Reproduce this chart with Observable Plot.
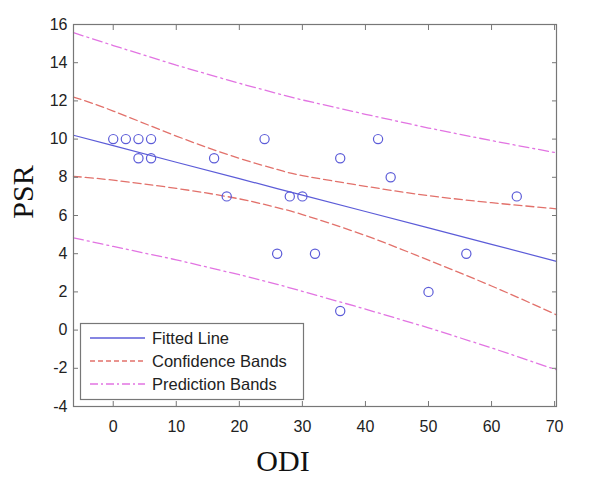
<!DOCTYPE html>
<html>
<head>
<meta charset="utf-8">
<script src="https://cdn.jsdelivr.net/npm/d3@7"></script>
<script src="https://cdn.jsdelivr.net/npm/@observablehq/plot@0.6"></script>
<style>
  html, body { margin: 0; padding: 0; background: #fff; }
  #wrap { position: relative; width: 600px; height: 484px; }
  #overlay { position: absolute; left: 0; top: 0; pointer-events: none; }
</style>
</head>
<body>
<div id="wrap"></div>
<script>
// Observations (ODI, PSR)
const odi = [0, 2, 4, 6, 4, 6, 16, 18, 24, 26, 28, 30, 32, 36, 36, 42, 44, 50, 56, 64];
const psr = [10, 10, 10, 10, 9, 9, 9, 7, 10, 4, 7, 7, 4, 9, 1, 10, 8, 2, 4, 7];

// Curves
const curveX = [-6.3, 0, 10, 20, 26, 30, 40, 50, 60, 70.3];
const fitted = [10.2, 9.66, 8.79, 7.93, 7.41, 7.07, 6.21, 5.35, 4.49, 3.6];
const confUpper = [12.2, 11.47, 10.16, 8.99, 8.41, 8.09, 7.53, 7.04, 6.67, 6.35];
const confLower = [8.05, 7.85, 7.42, 6.87, 6.41, 6.05, 4.95, 3.66, 2.31, 0.8];
const predUpper = [15.57, 14.9, 13.87, 12.92, 12.39, 12.05, 11.3, 10.58, 9.92, 9.28];
const predLower = [4.83, 4.38, 3.68, 2.9, 2.4, 2.03, 1.1, 0.12, -0.93, -2.08];

const xTicks = [0, 10, 20, 30, 40, 50, 60, 70];
const yTicks = [-4, -2, 0, 2, 4, 6, 8, 10, 12, 14, 16];

const legendItems = ["Fitted Line", "Confidence Bands", "Prediction Bands"];

const C_FIT = "#5c5cd8";
const C_CONF = "#e2716b";
const C_PRED = "#e274e2";
const DASH_CONF = "8,4";
const DASH_PRED = "10,4,2,4";

const points = odi.map((x, i) => ({x, y: psr[i]}));
const mk = arr => curveX.map((x, i) => ({x, y: arr[i]}));

const axisFont = "Liberation Sans, Arial, Helvetica, sans-serif";
const fmt = d => String(d);

const chart = Plot.plot({
  width: 600,
  height: 484,
  marginLeft: 73,
  marginRight: 44,
  marginTop: 24,
  marginBottom: 78,
  style: {fontFamily: axisFont, fontSize: "16px", color: "#222", background: "#fff"},
  x: {domain: [-6.3, 70.3], label: null},
  y: {domain: [-4, 16], label: null},
  marks: [
    Plot.line(mk(predUpper), {x: "x", y: "y", stroke: C_PRED, strokeWidth: 1.3, strokeDasharray: DASH_PRED}),
    Plot.line(mk(predLower), {x: "x", y: "y", stroke: C_PRED, strokeWidth: 1.3, strokeDasharray: DASH_PRED}),
    Plot.line(mk(confUpper), {x: "x", y: "y", stroke: C_CONF, strokeWidth: 1.3, strokeDasharray: DASH_CONF, curve: "natural"}),
    Plot.line(mk(confLower), {x: "x", y: "y", stroke: C_CONF, strokeWidth: 1.3, strokeDasharray: DASH_CONF, curve: "natural"}),
    Plot.line(mk(fitted), {x: "x", y: "y", stroke: C_FIT, strokeWidth: 1.2}),
    Plot.dot(points, {x: "x", y: "y", r: 4.6, stroke: C_FIT, strokeWidth: 1.2, fill: "none"}),
    Plot.frame({stroke: "#777", strokeWidth: 1.2}),
    Plot.axisX(xTicks, {anchor: "bottom", tickSize: -5, tickPadding: 19, tickFormat: fmt, stroke: "#777", label: null, fill: "#222"}),
    Plot.axisX(xTicks, {anchor: "top", tickSize: -5, tickFormat: () => "", stroke: "#777", label: null}),
    Plot.axisY(yTicks, {anchor: "left", tickSize: -5, tickPadding: 11, tickFormat: fmt, stroke: "#777", label: null, fill: "#222"}),
    Plot.axisY(yTicks, {anchor: "right", tickSize: -5, tickFormat: () => "", stroke: "#777", label: null})
  ]
});

const wrap = document.getElementById("wrap");
wrap.appendChild(chart);

// Overlay: axis titles and the in-plot legend
const ns = "http://www.w3.org/2000/svg";
const ov = document.createElementNS(ns, "svg");
ov.setAttribute("id", "overlay");
ov.setAttribute("width", 600);
ov.setAttribute("height", 484);
wrap.appendChild(ov);
const el = (tag, attrs, text) => {
  const e = document.createElementNS(ns, tag);
  for (const k in attrs) e.setAttribute(k, attrs[k]);
  if (text != null) e.textContent = text;
  ov.appendChild(e);
  return e;
};
const serif = "Liberation Serif, Times New Roman, serif";
el("text", {x: 0, y: 0, transform: "translate(33,192) rotate(-90)", "text-anchor": "middle", "font-family": serif, "font-size": 30, fill: "#111"}, "PSR");
el("text", {x: 283, y: 471, "text-anchor": "middle", "font-family": serif, "font-size": 30, fill: "#111"}, "ODI");

// legend box
el("rect", {x: 80.5, y: 323.5, width: 223, height: 76, fill: "#fff", stroke: "#777", "stroke-width": 1.2});
const styles = [
  {stroke: C_FIT, dash: null},
  {stroke: C_CONF, dash: "5,3"},
  {stroke: C_PRED, dash: "8,3,2,3"}
];
legendItems.forEach((label, i) => {
  const cy = 338 + i * 23;
  const ln = el("line", {x1: 90, x2: 145, y1: cy, y2: cy, stroke: styles[i].stroke, "stroke-width": 1.3});
  if (styles[i].dash) ln.setAttribute("stroke-dasharray", styles[i].dash);
  el("text", {x: 152, y: cy + 6, "font-family": axisFont, "font-size": 16.5, fill: "#222"}, label);
});
</script>
</body>
</html>
